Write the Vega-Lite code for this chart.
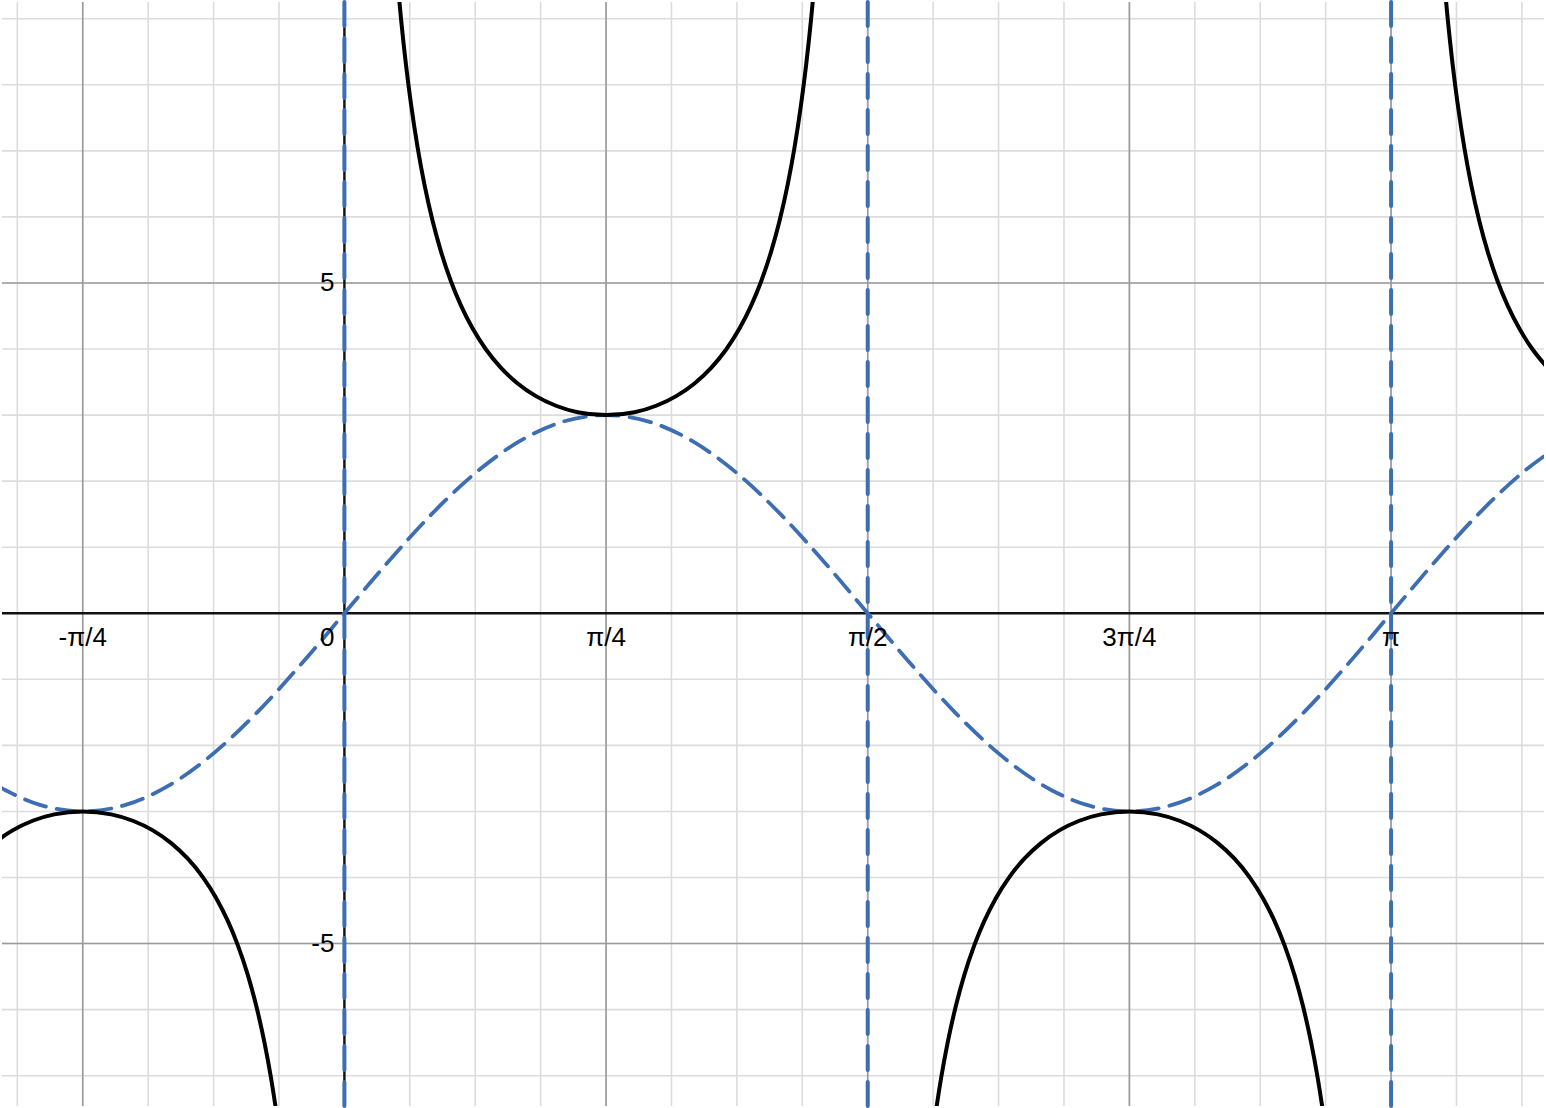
{
  "$schema": "https://vega.github.io/schema/vega-lite/v6.json",
  "width": 1546,
  "height": 1108,
  "autosize": {"type": "fit", "contains": "padding"},
  "padding": 0,
  "background": "white",
  "config": {"view": {"stroke": null}},
  "datasets": {
    "minorX": [
      {"x": -0.9817}, {"x": -0.7854}, {"x": -0.589}, {"x": -0.3927}, {"x": -0.1963}, {"x": 0},
      {"x": 0.1963}, {"x": 0.3927}, {"x": 0.589}, {"x": 0.7854}, {"x": 0.9817}, {"x": 1.1781},
      {"x": 1.3744}, {"x": 1.5708}, {"x": 1.7671}, {"x": 1.9635}, {"x": 2.1598}, {"x": 2.3562},
      {"x": 2.5525}, {"x": 2.7489}, {"x": 2.9452}, {"x": 3.1416}, {"x": 3.3379}, {"x": 3.5343}
    ],
    "minorY": [
      {"y": -7}, {"y": -6}, {"y": -5}, {"y": -4}, {"y": -3}, {"y": -2}, {"y": -1}, {"y": 0},
      {"y": 1}, {"y": 2}, {"y": 3}, {"y": 4}, {"y": 5}, {"y": 6}, {"y": 7}, {"y": 8}, {"y": 9}
    ],
    "majorX": [
      {"x": -0.7854}, {"x": 0.7854}, {"x": 1.5708}, {"x": 2.3562}, {"x": 3.1416}
    ],
    "majorY": [{"y": -5}, {"y": 5}],
    "asymptotes": [{"x": 0}, {"x": 1.5708}, {"x": 3.1416}],
    "sine": [
      {"x": -1.0472, "y": -2.5981}, {"x": -0.9163, "y": -2.8978}, {"x": -0.7854, "y": -3},
      {"x": -0.6545, "y": -2.8978}, {"x": -0.5236, "y": -2.5981}, {"x": -0.3927, "y": -2.1213},
      {"x": -0.2618, "y": -1.5}, {"x": -0.1309, "y": -0.7765}, {"x": 0, "y": 0},
      {"x": 0.1309, "y": 0.7765}, {"x": 0.2618, "y": 1.5}, {"x": 0.3927, "y": 2.1213},
      {"x": 0.5236, "y": 2.5981}, {"x": 0.6545, "y": 2.8978}, {"x": 0.7854, "y": 3},
      {"x": 0.9163, "y": 2.8978}, {"x": 1.0472, "y": 2.5981}, {"x": 1.1781, "y": 2.1213},
      {"x": 1.309, "y": 1.5}, {"x": 1.4399, "y": 0.7765}, {"x": 1.5708, "y": 0},
      {"x": 1.7017, "y": -0.7765}, {"x": 1.8326, "y": -1.5}, {"x": 1.9635, "y": -2.1213},
      {"x": 2.0944, "y": -2.5981}, {"x": 2.2253, "y": -2.8978}, {"x": 2.3562, "y": -3},
      {"x": 2.4871, "y": -2.8978}, {"x": 2.618, "y": -2.5981}, {"x": 2.7489, "y": -2.1213},
      {"x": 2.8798, "y": -1.5}, {"x": 3.0107, "y": -0.7765}, {"x": 3.1416, "y": 0},
      {"x": 3.2725, "y": 0.7765}, {"x": 3.4034, "y": 1.5}, {"x": 3.5343, "y": 2.1213},
      {"x": 3.6652, "y": 2.5981}
    ],
    "csc": [
      {"b": "A", "x": -1.1458, "y": -3.993}, {"b": "A", "x": -1.1008, "y": -3.715},
      {"b": "A", "x": -1.0508, "y": -3.479}, {"b": "A", "x": -0.9958, "y": -3.287},
      {"b": "A", "x": -0.9358, "y": -3.141}, {"b": "A", "x": -0.8708, "y": -3.044},
      {"b": "A", "x": -0.7854, "y": -3}, {"b": "A", "x": -0.7, "y": -3.044},
      {"b": "A", "x": -0.635, "y": -3.141}, {"b": "A", "x": -0.575, "y": -3.287},
      {"b": "A", "x": -0.52, "y": -3.479}, {"b": "A", "x": -0.47, "y": -3.715},
      {"b": "A", "x": -0.425, "y": -3.993}, {"b": "A", "x": -0.385, "y": -4.309},
      {"b": "A", "x": -0.35, "y": -4.657}, {"b": "A", "x": -0.32, "y": -5.023},
      {"b": "A", "x": -0.29, "y": -5.474}, {"b": "A", "x": -0.265, "y": -5.934},
      {"b": "A", "x": -0.24, "y": -6.497}, {"b": "A", "x": -0.22, "y": -7.043},
      {"b": "A", "x": -0.2, "y": -7.704}, {"b": "A", "x": -0.185, "y": -8.296},

      {"b": "B", "x": 0.15, "y": 10.152}, {"b": "B", "x": 0.16, "y": 9.537},
      {"b": "B", "x": 0.17, "y": 8.996}, {"b": "B", "x": 0.185, "y": 8.296},
      {"b": "B", "x": 0.2, "y": 7.704}, {"b": "B", "x": 0.22, "y": 7.043},
      {"b": "B", "x": 0.24, "y": 6.497}, {"b": "B", "x": 0.265, "y": 5.934},
      {"b": "B", "x": 0.29, "y": 5.474}, {"b": "B", "x": 0.32, "y": 5.023},
      {"b": "B", "x": 0.35, "y": 4.657}, {"b": "B", "x": 0.385, "y": 4.309},
      {"b": "B", "x": 0.425, "y": 3.993}, {"b": "B", "x": 0.47, "y": 3.715},
      {"b": "B", "x": 0.52, "y": 3.479}, {"b": "B", "x": 0.575, "y": 3.287},
      {"b": "B", "x": 0.635, "y": 3.141}, {"b": "B", "x": 0.7, "y": 3.044},
      {"b": "B", "x": 0.7854, "y": 3}, {"b": "B", "x": 0.8708, "y": 3.044},
      {"b": "B", "x": 0.9358, "y": 3.141}, {"b": "B", "x": 0.9958, "y": 3.287},
      {"b": "B", "x": 1.0508, "y": 3.479}, {"b": "B", "x": 1.1008, "y": 3.715},
      {"b": "B", "x": 1.1458, "y": 3.993}, {"b": "B", "x": 1.1858, "y": 4.309},
      {"b": "B", "x": 1.2208, "y": 4.657}, {"b": "B", "x": 1.2508, "y": 5.023},
      {"b": "B", "x": 1.2808, "y": 5.474}, {"b": "B", "x": 1.3058, "y": 5.934},
      {"b": "B", "x": 1.3308, "y": 6.497}, {"b": "B", "x": 1.3508, "y": 7.043},
      {"b": "B", "x": 1.3708, "y": 7.704}, {"b": "B", "x": 1.3858, "y": 8.296},
      {"b": "B", "x": 1.4008, "y": 8.996}, {"b": "B", "x": 1.4108, "y": 9.537},
      {"b": "B", "x": 1.4208, "y": 10.152},

      {"b": "C", "x": 1.7208, "y": -10.152}, {"b": "C", "x": 1.7308, "y": -9.537},
      {"b": "C", "x": 1.7408, "y": -8.996}, {"b": "C", "x": 1.7558, "y": -8.296},
      {"b": "C", "x": 1.7708, "y": -7.704}, {"b": "C", "x": 1.7908, "y": -7.043},
      {"b": "C", "x": 1.8108, "y": -6.497}, {"b": "C", "x": 1.8358, "y": -5.934},
      {"b": "C", "x": 1.8608, "y": -5.474}, {"b": "C", "x": 1.8908, "y": -5.023},
      {"b": "C", "x": 1.9208, "y": -4.657}, {"b": "C", "x": 1.9558, "y": -4.309},
      {"b": "C", "x": 1.9958, "y": -3.993}, {"b": "C", "x": 2.0408, "y": -3.715},
      {"b": "C", "x": 2.0908, "y": -3.479}, {"b": "C", "x": 2.1458, "y": -3.287},
      {"b": "C", "x": 2.2058, "y": -3.141}, {"b": "C", "x": 2.2708, "y": -3.044},
      {"b": "C", "x": 2.3562, "y": -3}, {"b": "C", "x": 2.4416, "y": -3.044},
      {"b": "C", "x": 2.5066, "y": -3.141}, {"b": "C", "x": 2.5666, "y": -3.287},
      {"b": "C", "x": 2.6216, "y": -3.479}, {"b": "C", "x": 2.6716, "y": -3.715},
      {"b": "C", "x": 2.7166, "y": -3.993}, {"b": "C", "x": 2.7566, "y": -4.309},
      {"b": "C", "x": 2.7916, "y": -4.657}, {"b": "C", "x": 2.8216, "y": -5.023},
      {"b": "C", "x": 2.8516, "y": -5.474}, {"b": "C", "x": 2.8766, "y": -5.934},
      {"b": "C", "x": 2.9016, "y": -6.497}, {"b": "C", "x": 2.9216, "y": -7.043},
      {"b": "C", "x": 2.9416, "y": -7.704}, {"b": "C", "x": 2.9566, "y": -8.296},
      {"b": "C", "x": 2.9716, "y": -8.996}, {"b": "C", "x": 2.9816, "y": -9.537},
      {"b": "C", "x": 2.9916, "y": -10.152},

      {"b": "D", "x": 3.2916, "y": 10.152}, {"b": "D", "x": 3.3016, "y": 9.537},
      {"b": "D", "x": 3.3116, "y": 8.996}, {"b": "D", "x": 3.3266, "y": 8.296},
      {"b": "D", "x": 3.3416, "y": 7.704}, {"b": "D", "x": 3.3616, "y": 7.043},
      {"b": "D", "x": 3.3816, "y": 6.497}, {"b": "D", "x": 3.4066, "y": 5.934},
      {"b": "D", "x": 3.4316, "y": 5.474}, {"b": "D", "x": 3.4616, "y": 5.023},
      {"b": "D", "x": 3.4916, "y": 4.657}, {"b": "D", "x": 3.5266, "y": 4.309},
      {"b": "D", "x": 3.5666, "y": 3.993}, {"b": "D", "x": 3.6116, "y": 3.715}
    ],
    "xLabels": [
      {"x": -0.7854, "label": "-π/4"}, {"x": 0.7854, "label": "π/4"},
      {"x": 1.5708, "label": "π/2"}, {"x": 2.3562, "label": "3π/4"},
      {"x": 3.1416, "label": "π"}
    ],
    "yLabels": [{"y": 5, "label": "5"}, {"y": -5, "label": "-5"}],
    "originLabel": [{"x": 0, "label": "0"}]
  },
  "encoding": {
    "x": {
      "type": "quantitative",
      "scale": {"domain": [-1.0277, 3.6006], "nice": false, "zero": false},
      "axis": null
    },
    "y": {
      "type": "quantitative",
      "scale": {"domain": [-7.459, 9.253], "nice": false, "zero": false},
      "axis": null
    }
  },
  "layer": [
    {
      "data": {"name": "minorX"},
      "mark": {"type": "rule", "color": "#dcdcdc", "strokeWidth": 1.6},
      "encoding": {"x": {"field": "x", "type": "quantitative"}}
    },
    {
      "data": {"name": "minorY"},
      "mark": {"type": "rule", "color": "#dcdcdc", "strokeWidth": 1.6},
      "encoding": {"y": {"field": "y", "type": "quantitative"}}
    },
    {
      "data": {"name": "majorX"},
      "mark": {"type": "rule", "color": "#9a9a9a", "strokeWidth": 1.6},
      "encoding": {"x": {"field": "x", "type": "quantitative"}}
    },
    {
      "data": {"name": "majorY"},
      "mark": {"type": "rule", "color": "#9a9a9a", "strokeWidth": 1.6},
      "encoding": {"y": {"field": "y", "type": "quantitative"}}
    },
    {
      "data": {"values": [{"v": 0}]},
      "mark": {"type": "rule", "color": "#111111", "strokeWidth": 2.4},
      "encoding": {"y": {"field": "v", "type": "quantitative"}}
    },
    {
      "data": {"values": [{"v": 0}]},
      "mark": {"type": "rule", "color": "#111111", "strokeWidth": 2.4},
      "encoding": {"x": {"field": "v", "type": "quantitative"}}
    },
    {
      "data": {"name": "sine"},
      "mark": {
        "type": "line",
        "clip": true,
        "interpolate": "monotone",
        "color": "#3d6db2",
        "strokeWidth": 3.8,
        "strokeDash": [22, 11],
        "strokeCap": "round"
      },
      "encoding": {
        "x": {"field": "x", "type": "quantitative"},
        "y": {"field": "y", "type": "quantitative"}
      }
    },
    {
      "data": {"name": "csc"},
      "mark": {
        "type": "line",
        "clip": true,
        "interpolate": "monotone",
        "color": "#000000",
        "strokeWidth": 4
      },
      "encoding": {
        "x": {"field": "x", "type": "quantitative"},
        "y": {"field": "y", "type": "quantitative"},
        "detail": {"field": "b", "type": "nominal"}
      }
    },
    {
      "data": {"name": "asymptotes"},
      "mark": {
        "type": "rule",
        "color": "#3d6db2",
        "strokeWidth": 4,
        "strokeDash": [24, 12],
        "strokeCap": "round"
      },
      "encoding": {"x": {"field": "x", "type": "quantitative"}}
    },
    {
      "data": {"name": "xLabels"},
      "mark": {
        "type": "text",
        "font": "Liberation Sans",
        "fontSize": 26,
        "align": "center",
        "baseline": "alphabetic",
        "dy": 33,
        "color": "#000000"
      },
      "encoding": {
        "x": {"field": "x", "type": "quantitative"},
        "y": {"datum": 0},
        "text": {"field": "label"}
      }
    },
    {
      "data": {"name": "originLabel"},
      "mark": {
        "type": "text",
        "font": "Liberation Sans",
        "fontSize": 26,
        "align": "right",
        "baseline": "alphabetic",
        "dx": -10,
        "dy": 33,
        "color": "#000000"
      },
      "encoding": {
        "x": {"field": "x", "type": "quantitative"},
        "y": {"datum": 0},
        "text": {"field": "label"}
      }
    },
    {
      "data": {"name": "yLabels"},
      "mark": {
        "type": "text",
        "font": "Liberation Sans",
        "fontSize": 26,
        "align": "right",
        "baseline": "middle",
        "dx": -10,
        "color": "#000000"
      },
      "encoding": {
        "x": {"datum": 0},
        "y": {"field": "y", "type": "quantitative"},
        "text": {"field": "label"}
      }
    }
  ]
}
